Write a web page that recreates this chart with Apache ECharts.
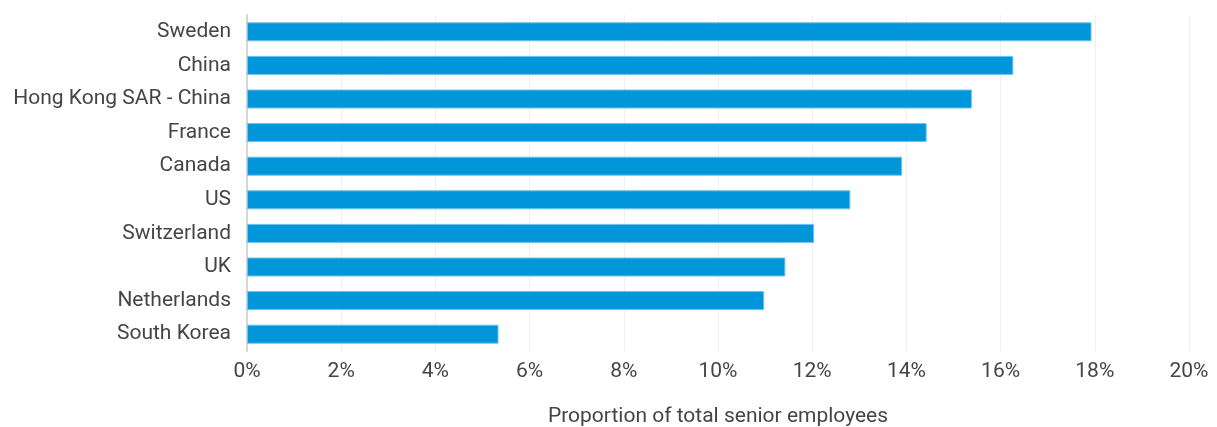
<!DOCTYPE html>
<html>
<head>
<meta charset="utf-8">
<script src="https://cdn.jsdelivr.net/npm/echarts@6/dist/echarts.min.js"></script>
<style>
  html, body { margin: 0; padding: 0; background: #fff; overflow: hidden; }
  #chart { width: 1217px; height: 427px; }
</style>
</head>
<body>
<div id="chart"></div>
<script>
// Countries, top to bottom
const countries = [
  'Sweden', 'China', 'Hong Kong SAR - China', 'France', 'Canada',
  'US', 'Switzerland', 'UK', 'Netherlands', 'South Korea'
];
// Share of senior employees, percent
const shares = [17.93, 16.27, 15.39, 14.43, 13.91, 12.81, 12.04, 11.43, 10.98, 5.34];
const axisTicks = [0, 2, 4, 6, 8, 10, 12, 14, 16, 18, 20];
const axisTitle = 'Proportion of total senior employees';

const font = 'Roboto, "DejaVu Sans", sans-serif';
const textColor = '#454545';
const chart = echarts.init(document.getElementById('chart'), null, {
  renderer: 'canvas', width: 1217, height: 427
});

chart.setOption({
  animation: false,
  grid: {
    left: 247, right: 28, top: 15, height: 336,
    containLabel: false, outerBoundsMode: 'none'
  },
  xAxis: {
    type: 'value',
    min: axisTicks[0],
    max: axisTicks[axisTicks.length - 1],
    interval: axisTicks[1] - axisTicks[0],
    name: axisTitle,
    nameLocation: 'middle',
    nameGap: 55,
    nameTextStyle: { color: textColor, fontSize: 21, fontFamily: font },
    axisLine: { show: false },
    axisTick: { show: false },
    axisLabel: {
      color: textColor, fontSize: 21, fontFamily: font, margin: 10,
      formatter: v => v + '%'
    },
    splitLine: { show: true, lineStyle: { color: '#efefef', width: 1 } }
  },
  yAxis: {
    type: 'category',
    data: countries,
    inverse: true,
    axisLine: { show: true, lineStyle: { color: '#d6d6d6', width: 2 } },
    axisTick: { show: false },
    axisLabel: { color: textColor, fontSize: 21, fontFamily: font, margin: 16 }
  },
  series: [{
    type: 'bar',
    data: shares,
    barWidth: 19,
    itemStyle: { color: '#0096d9', borderColor: '#6cc3ec', borderWidth: 1 }
  }]
});
</script>
</body>
</html>
